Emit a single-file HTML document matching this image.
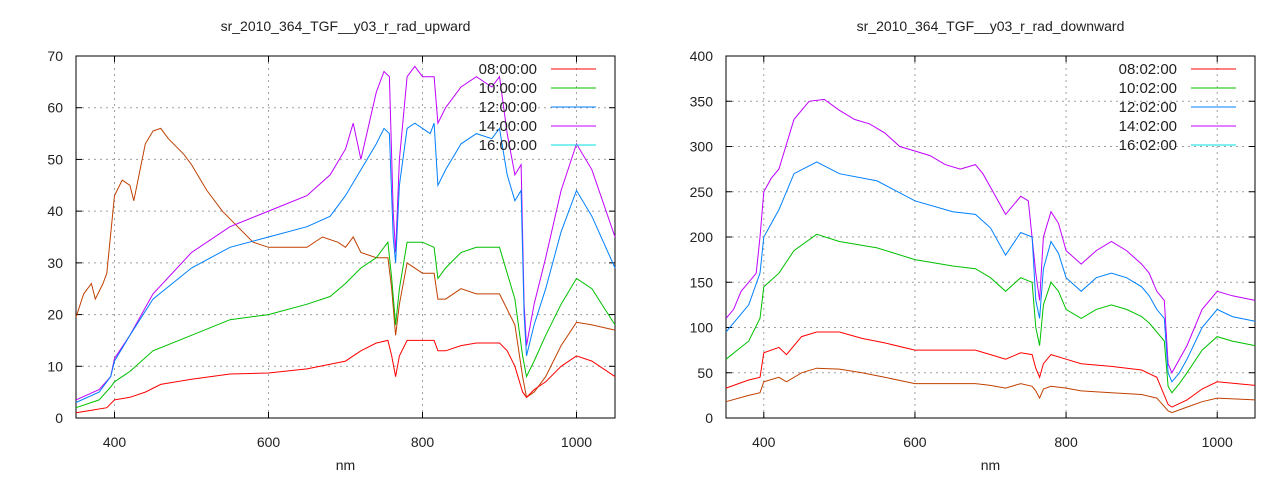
<!DOCTYPE html>
<html><head><meta charset="utf-8"><style>
body{margin:0;background:#fff}
svg text{font-family:"Liberation Sans",sans-serif;font-size:14px;fill:#222}
svg text.l{font-size:15px}
</style></head><body>
<svg id="s" width="1280" height="480" xmlns="http://www.w3.org/2000/svg"></svg>
<script>
const S=document.getElementById('s');
function el(t,a,txt){const e=document.createElementNS('http://www.w3.org/2000/svg',t);for(const k in a)e.setAttribute(k,a[k]);if(txt!==undefined)e.textContent=txt;S.appendChild(e);return e;}
const C={r:'#ff0000',g:'#00c000',b:'#0080ff',p:'#c000ff',c:'#00e0e0',o:'#c04000'};
function plot(P){
 const X=n=>P.x0+(n-350)*(P.x1-P.x0)/700, Y=v=>P.y1-v*(P.y1-P.y0)/P.ymax;
 for(const n of [400,600,800,1000]){el('line',{x1:X(n),x2:X(n),y1:P.y0,y2:P.y1,stroke:'#a0a0a0','stroke-dasharray':'2,4'});
  el('line',{x1:X(n),x2:X(n),y1:P.y1,y2:P.y1-6,stroke:'#000'});el('line',{x1:X(n),x2:X(n),y1:P.y0,y2:P.y0+6,stroke:'#000'});
  el('text',{x:X(n),y:P.y1+29,'text-anchor':'middle'},String(n));}
 for(let v=0;v<=P.ymax;v+=P.ys){el('line',{x1:P.x0,x2:P.x1,y1:Y(v),y2:Y(v),stroke:'#a0a0a0','stroke-dasharray':'2,4'});
  el('line',{x1:P.x0,x2:P.x0+6,y1:Y(v),y2:Y(v),stroke:'#000'});el('line',{x1:P.x1,x2:P.x1-6,y1:Y(v),y2:Y(v),stroke:'#000'});
  el('text',{x:P.x0-13,y:Y(v)+5,'text-anchor':'end'},String(v));}
 el('rect',{x:P.x0,y:P.y0,width:P.x1-P.x0,height:P.y1-P.y0,fill:'none',stroke:'#000'});
 for(const [c,d] of P.series){let pts=[];for(let i=0;i<d.length;i+=2)pts.push(X(d[i]).toFixed(1)+','+Y(d[i+1]).toFixed(1));
  el('polyline',{points:pts.join(' '),fill:'none',stroke:C[c],'stroke-width':1});}
 P.leg.forEach((t,i)=>{const y=P.y0+13+i*19;el('text',{x:P.x1-78,y:y+5,'text-anchor':'end','class':'l'},t);
  el('line',{x1:P.x1-64,x2:P.x1-19,y1:y,y2:y,stroke:C['rgbpc'[i]]});});
 el('text',{x:(P.x0+P.x1)/2,y:31,'text-anchor':'middle'},P.title);
 el('text',{x:(P.x0+P.x1)/2,y:470,'text-anchor':'middle'},'nm');
}
plot({x0:76,x1:615,y0:56,y1:418,ymax:70,ys:10,title:'sr_2010_364_TGF__y03_r_rad_upward',
leg:['08:00:00','10:00:00','12:00:00','14:00:00','16:00:00'],series:[
['o',[350,19.5,360,24,370,26,375,23,385,26,390,28,400,43,410,46,420,45,425,42,440,53,450,55.5,460,56,470,54,490,51,500,49,520,44,540,40,560,37,580,34,600,33,620,33,650,33,670,35,690,34,700,33,710,35,720,32,740,31,755,31,760,25,765,16,770,22,780,30,800,28,815,28,820,23,830,23,850,25,870,24,900,24,910,21,920,18,930,8,935,4,945,5,960,8,980,14,1000,18.5,1020,18,1050,17]],
['r',[350,1,370,1.5,390,2,400,3.5,420,4,440,5,460,6.5,500,7.5,550,8.5,600,8.7,650,9.5,700,11,720,13,740,14.5,755,15,760,12,765,8,770,12,780,15,800,15,815,15,820,13,830,13,850,14,870,14.5,900,14.5,910,13,920,10,930,5,935,4,945,5.5,960,7,980,10,1000,12,1020,11,1050,8]],
['g',[350,2,380,3.5,395,6,400,7,420,9,450,13,500,16,550,19,600,20,650,22,680,23.5,700,26,720,29,740,31,755,34,760,27,765,18,770,25,780,34,800,34,815,33,820,27,830,29,850,32,870,33,900,33,910,28,920,23,930,12,935,8,945,11,960,16,980,22,1000,27,1020,25,1050,18]],
['p',[350,3.5,380,5.5,395,8,400,11.5,420,16,450,24,500,32,550,37,600,40,650,43,680,47,700,52,710,57,720,50,740,63,750,67,757,66,762,40,765,32,770,50,780,66,790,68,800,66,815,66,820,57,830,60,850,64,870,66,890,64,900,66,910,55,920,47,928,49,932,22,935,14,945,22,960,31,980,44,1000,53,1020,48,1050,35]],
['b',[350,3,380,5,395,8,400,11,420,16,450,23,500,29,550,33,600,35,650,37,680,39,700,43,720,48,740,53,750,56,757,55,762,35,765,30,770,45,780,56,790,57,800,56,810,55,815,57,820,45,830,48,850,53,870,55,890,54,900,56,910,47,920,42,928,44,932,20,935,12,945,18,960,25,980,36,1000,44,1020,39,1050,29]]
]});
plot({x0:726,x1:1255,y0:56,y1:418,ymax:400,ys:50,title:'sr_2010_364_TGF__y03_r_rad_downward',
leg:['08:02:00','10:02:00','12:02:00','14:02:00','16:02:00'],series:[
['p',[350,110,360,120,370,140,380,150,390,160,395,200,400,250,410,265,420,275,440,330,460,350,480,352,500,340,520,330,540,325,560,315,580,300,600,295,620,290,640,280,660,275,680,280,690,270,700,255,720,225,740,245,750,240,760,160,765,130,770,200,780,228,790,215,800,185,820,170,840,185,860,195,880,185,900,170,910,160,920,140,930,130,935,60,940,50,950,65,960,80,980,120,1000,140,1020,135,1050,130]],
['b',[350,95,380,125,395,160,400,200,420,230,440,270,470,283,500,270,550,262,600,240,650,228,680,225,700,210,720,180,740,205,755,200,760,130,765,110,770,165,780,195,790,182,800,155,820,140,840,155,860,160,880,155,900,145,910,135,920,120,930,110,935,50,940,40,950,50,960,65,980,100,1000,120,1020,112,1050,107]],
['g',[350,65,380,85,395,110,400,145,420,160,440,185,470,203,500,195,550,188,600,175,650,168,680,165,700,155,720,140,740,155,755,150,760,100,765,80,770,125,780,150,790,140,800,120,820,110,840,120,860,125,880,120,900,112,910,105,920,95,930,85,935,35,940,28,950,38,960,50,980,75,1000,90,1020,85,1050,80]],
['r',[350,33,380,42,395,45,400,72,420,78,430,70,450,90,470,95,500,95,530,88,560,83,600,75,650,75,680,75,700,70,720,65,740,72,755,70,760,55,765,45,770,60,780,70,800,65,820,60,860,57,900,53,920,45,935,15,940,12,960,20,980,32,1000,40,1050,36]],
['o',[350,18,380,25,395,28,400,40,420,45,430,40,450,50,470,55,500,54,530,50,560,45,600,38,650,38,680,38,700,36,720,33,740,38,755,35,760,30,765,22,770,32,780,35,800,33,820,30,860,28,900,26,920,22,935,8,940,6,960,12,980,18,1000,22,1050,20]]
]});
</script>
</body></html>
